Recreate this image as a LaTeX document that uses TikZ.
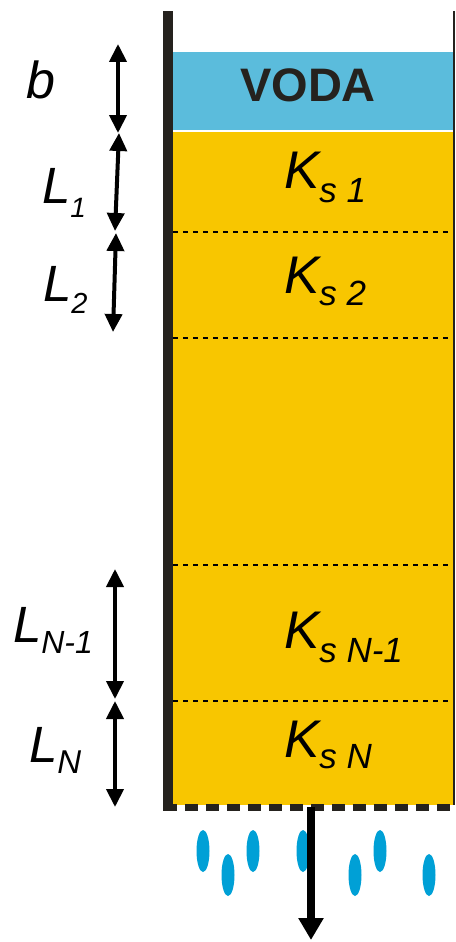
\documentclass[tikz,border=0pt]{standalone}
\usepackage{fontspec}
\setmainfont{Liberation Sans}
\usetikzlibrary{arrows.meta}
\definecolor{wall}{HTML}{25221E}
\definecolor{water}{HTML}{5BBCDC}
\definecolor{soil}{HTML}{F8C600}
\definecolor{drop}{HTML}{00A0D6}
\tikzset{
  lbl/.style={anchor=base west, inner sep=0pt, outer sep=0pt, font=\itshape},
  dimarrow/.style={line width=4pt, {Triangle[length=18pt,width=17pt]}-{Triangle[length=18pt,width=17pt]}},
  layerline/.style={line width=1.3pt, dash pattern=on 5pt off 5pt, black},
  dropshape/.style={fill=drop, draw=none},
}
\newcommand{\ksub}[2]{\fontsize{53}{53}\selectfont K\raisebox{-#2pt}{\fontsize{35}{35}\selectfont s #1}}
\newcommand{\lsub}[3]{\fontsize{51}{51}\selectfont L\raisebox{-#2pt}{\fontsize{#3}{#3}\selectfont #1}}
\begin{document}
\begin{tikzpicture}[x=1pt,y=-1pt]
\useasboundingbox (0,0) rectangle (455,942);
% fills
\fill[water] (173,52) rectangle (454,130);
\fill[soil] (173,132) rectangle (454,805);
% layer lines
\draw[layerline] (173,232) -- (450,232);
\draw[layerline] (173,338) -- (450,338);
\draw[layerline] (173,565) -- (450,565);
\draw[layerline] (173,701) -- (450,701);
% walls
\fill[wall] (163,11) rectangle (173,811);
\draw[wall, line width=1.5pt] (454,11) -- (454,805);
\draw[wall, line width=7pt, dash pattern=on 13pt off 8pt] (164,807) -- (455,807);
% texts
\node[anchor=base, inner sep=0pt, font=\bfseries\fontsize{47}{47}\selectfont, text=wall] (voda) at (308,101) {VODA};
\node[lbl] (ks1) at (284,188) {\ksub{1}{14}};
\node[lbl] (ks2) at (284,293) {\ksub{2}{12}};
\node[lbl] (ksn1) at (284,648) {\ksub{N-1}{14}};
\node[lbl] (ksn) at (284,757) {\ksub{N}{11}};
\node[lbl, font=\itshape\fontsize{52}{52}\selectfont] (b) at (27,98) {b};
\node[lbl] (l1) at (42,203) {\lsub{1}{14}{28}};
\node[lbl] (l2) at (43,301) {\lsub{2}{12}{29}};
\node[lbl] (ln1) at (13,642) {\lsub{N-1}{11}{32}};
\node[lbl] (ln) at (29,762) {\lsub{N}{11}{33}};
% dimension arrows
\coordinate (b1) at (118,44);
\coordinate (b2) at (118,133);
\coordinate (l1a) at (119,133);
\coordinate (l1b) at (115,231);
\coordinate (l2a) at (116,233);
\coordinate (l2b) at (113,332);
\coordinate (ln1a) at (115,569);
\coordinate (ln1b) at (115,699);
\coordinate (lna) at (115,701);
\coordinate (lnb) at (115,807);
\draw[dimarrow] (b1) -- (b2);
\draw[dimarrow] (l1a) -- (l1b);
\draw[dimarrow] (l2a) -- (l2b);
\draw[dimarrow] (ln1a) -- (ln1b);
\draw[dimarrow] (lna) -- (lnb);
% drops
\foreach \x/\y in {203/851, 228/875, 253/851, 303/851, 355/875, 380/851, 429/875}
  \fill[dropshape] (\x,\y) ellipse [x radius=6.5, y radius=21];
% outflow arrow
\coordinate (outa) at (311,807);
\coordinate (outb) at (311,940);
\draw[line width=8pt, -{Triangle[length=22pt,width=24pt]}] (outa) -- (outb);
\end{tikzpicture}
\end{document}
